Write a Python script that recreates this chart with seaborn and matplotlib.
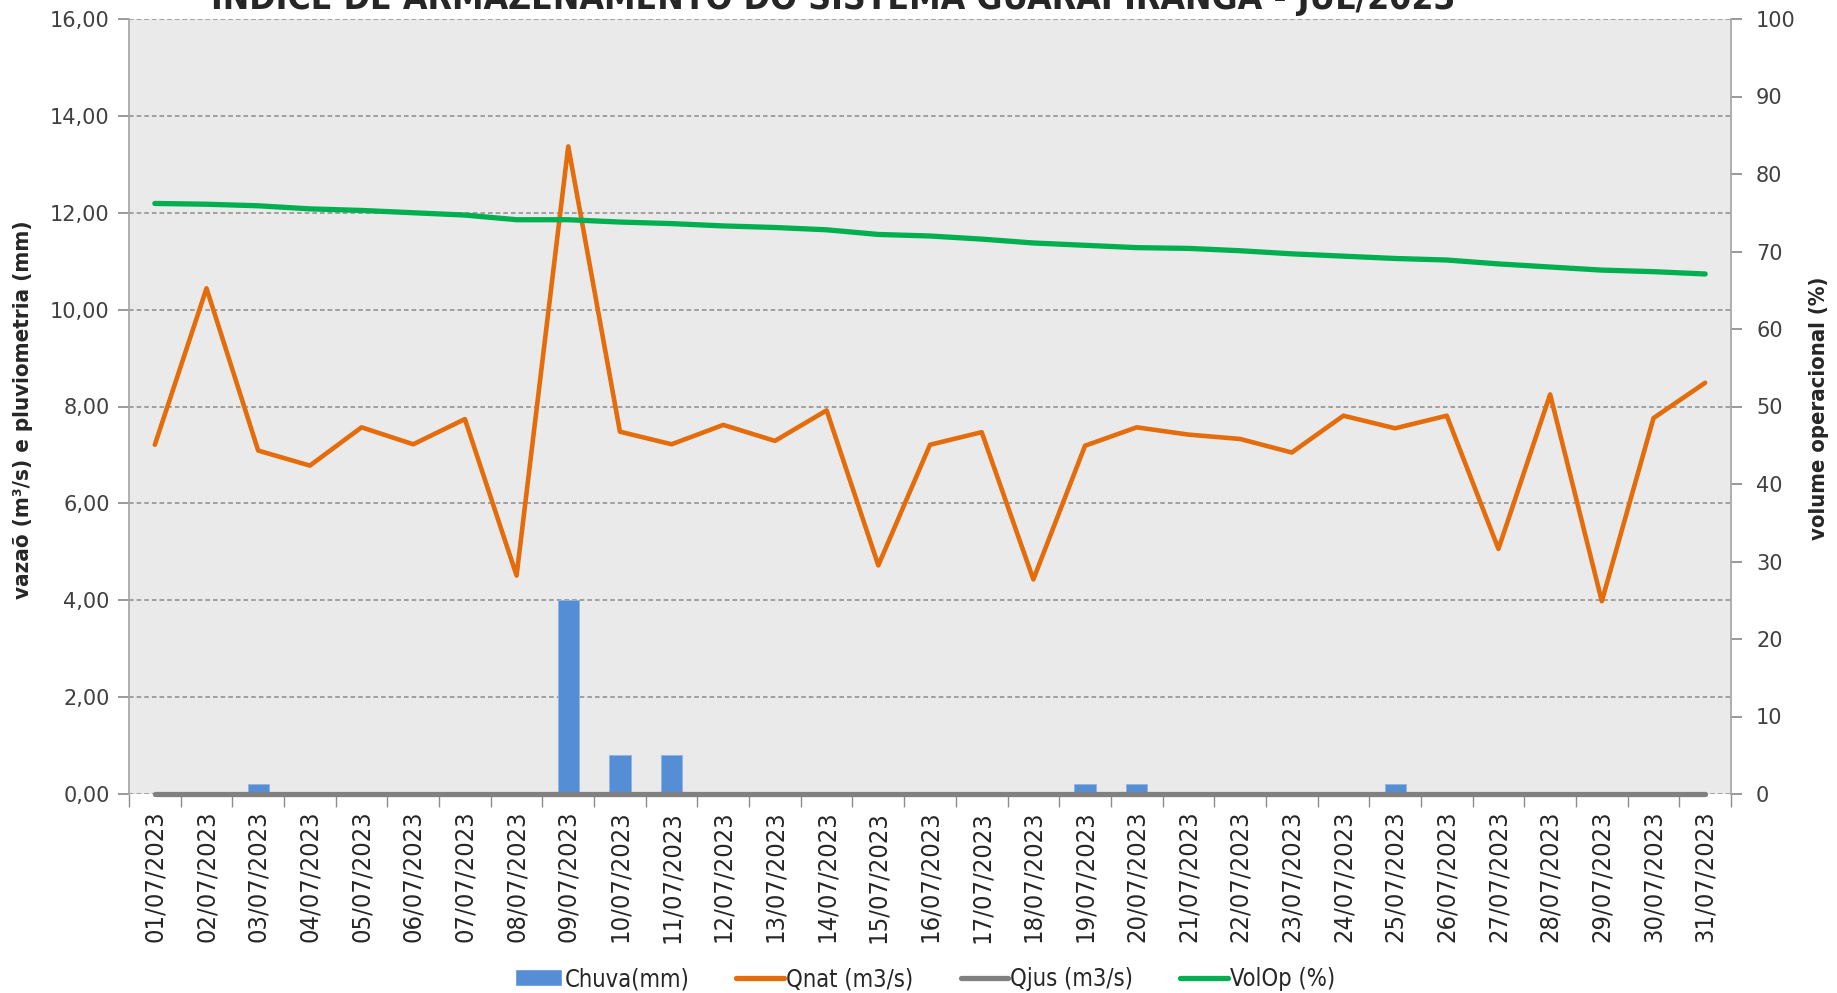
import matplotlib
matplotlib.use("Agg")
import matplotlib.pyplot as plt
from matplotlib.ticker import FuncFormatter, FixedLocator
from matplotlib.patches import Patch
from matplotlib.lines import Line2D
import numpy as np
import pandas as pd
import seaborn as sns

# dados diarios - julho/2023
dates = ["01/07/2023", "02/07/2023", "03/07/2023", "04/07/2023", "05/07/2023",
         "06/07/2023", "07/07/2023", "08/07/2023", "09/07/2023", "10/07/2023",
         "11/07/2023", "12/07/2023", "13/07/2023", "14/07/2023", "15/07/2023",
         "16/07/2023", "17/07/2023", "18/07/2023", "19/07/2023", "20/07/2023",
         "21/07/2023", "22/07/2023", "23/07/2023", "24/07/2023", "25/07/2023",
         "26/07/2023", "27/07/2023", "28/07/2023", "29/07/2023", "30/07/2023",
         "31/07/2023"]
chuva = [0, 0, 0.2, 0, 0, 0, 0, 0, 4.0, 0.8, 0.8, 0, 0, 0, 0, 0,
         0, 0, 0.2, 0.2, 0, 0, 0, 0, 0.2, 0, 0, 0, 0, 0, 0]
qnat = [7.21, 10.44, 7.09, 6.78, 7.57, 7.22, 7.74, 4.51, 13.37, 7.48, 7.22,
        7.62, 7.29, 7.92, 4.72, 7.21, 7.47, 4.43, 7.19, 7.57, 7.42, 7.33,
        7.05, 7.81, 7.55, 7.81, 5.06, 8.25, 3.98, 7.76, 8.49]
qjus = [0, 0, 0, 0, 0, 0, 0, 0, 0, 0, 0, 0, 0, 0, 0, 0,
        0, 0, 0, 0, 0, 0, 0, 0, 0, 0, 0, 0, 0, 0, 0]
volop = [76.2, 76.1, 75.9, 75.5, 75.3, 75.0, 74.7, 74.1, 74.1, 73.8, 73.6,
         73.3, 73.1, 72.8, 72.2, 72.0, 71.6, 71.1, 70.8, 70.5, 70.4, 70.1,
         69.7, 69.4, 69.1, 68.9, 68.4, 68.0, 67.6, 67.4, 67.1]

C_CHUVA = "#558ED5"
C_QNAT = "#E46C0A"
C_QJUS = "#808080"
C_VOL = "#00B050"

sns.set_theme(style="ticks")
plt.rcParams["font.family"] = ["DejaVu Sans"]

df = pd.DataFrame({"pos": np.arange(len(dates)), "data": dates,
                   "chuva": chuva, "qnat": qnat, "qjus": qjus, "volop": volop})

fig = plt.figure(figsize=(18.37, 9.93), dpi=100)
ax = fig.add_axes([129 / 1837, 1 - 794 / 993, (1731 - 129) / 1837, (794 - 19) / 993])
ax.set_facecolor("#EAEAEA")
ax.set_axisbelow(True)
ax.yaxis.grid(True, linestyle=(0, (3, 2)), color="#8C8C8C", lw=1.1)

sns.barplot(data=df, x="pos", y="chuva", color=C_CHUVA, width=0.41,
            saturation=1, edgecolor="#8FB4E3", linewidth=0.6, ax=ax, zorder=2)
sns.lineplot(data=df, x="pos", y="qjus", color=C_QJUS, lw=3.8, ax=ax, zorder=3)
sns.lineplot(data=df, x="pos", y="qnat", color=C_QNAT, lw=3.3, ax=ax, zorder=4)
for ln in ax.get_lines():
    ln.set_clip_on(False)

ax.set_xlim(-0.5, len(dates) - 0.5)
ax.set_ylim(0, 16)
ax.set_yticks(np.arange(0, 17, 2))
ax.yaxis.set_major_formatter(FuncFormatter(lambda v, p: f"{v:.2f}".replace(".", ",")))
ax.set_xticks(df["pos"])
ax.set_xticklabels(dates, rotation=90, fontsize=18.3, fontstretch="condensed", color="#262626")
ax.tick_params(axis="x", which="major", length=0, pad=12)
ax.xaxis.set_minor_locator(FixedLocator(np.arange(-0.5, len(dates), 1)))
ax.tick_params(axis="x", which="minor", length=9, color="#8C8C8C", width=1)
ax.tick_params(axis="y", length=8, color="#8C8C8C", labelsize=15, labelcolor="#404040", pad=6)
ax.set_xlabel("")
ax.set_ylabel("")
for s in ["top", "right", "bottom"]:
    ax.spines[s].set_visible(False)
ax.spines["left"].set_color("#A6A6A6")

ax2 = ax.twinx()
sns.lineplot(data=df, x="pos", y="volop", color=C_VOL, lw=3.8, ax=ax2, zorder=5)
ax2.set_ylim(0, 100)
ax2.set_yticks(np.arange(0, 101, 10))
ax2.tick_params(axis="y", length=8, color="#8C8C8C", labelsize=15, labelcolor="#404040", pad=10)
ax2.set_ylabel("")
ax2.set_xlabel("")
for s in ["top", "left", "bottom"]:
    ax2.spines[s].set_visible(False)
ax2.spines["right"].set_color("#A6A6A6")

fig.text(833 / 1837, 1 - 9 / 993, "ÍNDICE DE ARMAZENAMENTO DO SISTEMA GUARAPIRANGA - JUL/2023",
         ha="center", va="baseline", fontsize=25.5, fontweight="bold", fontstretch="condensed")
fig.text(23 / 1837, 1 - 410 / 993, "vazaõ (m³/s) e pluviometria (mm)", rotation=90,
         ha="center", va="center", fontsize=16, fontweight="bold", fontstretch="condensed")
fig.text(1819 / 1837, 1 - 408 / 993, "volume operacional (%)", rotation=90,
         ha="center", va="center", fontsize=15.8, fontweight="bold", fontstretch="condensed")

handles = [Patch(facecolor=C_CHUVA),
           Line2D([], [], color=C_QNAT, lw=3.8),
           Line2D([], [], color=C_QJUS, lw=3.8),
           Line2D([], [], color=C_VOL, lw=3.8)]
labels = ["Chuva(mm)", "Qnat (m3/s)", "Qjus (m3/s)", "VolOp (%)"]
fig.legend(handles, labels, loc="center", bbox_to_anchor=(925 / 1837, 1 - 979 / 993),
           ncol=4, frameon=False, prop={"size": 17, "stretch": "condensed"},
           handlelength=2.0, handletextpad=0.1, columnspacing=2.0)

fig.savefig("out.png", dpi=100)
